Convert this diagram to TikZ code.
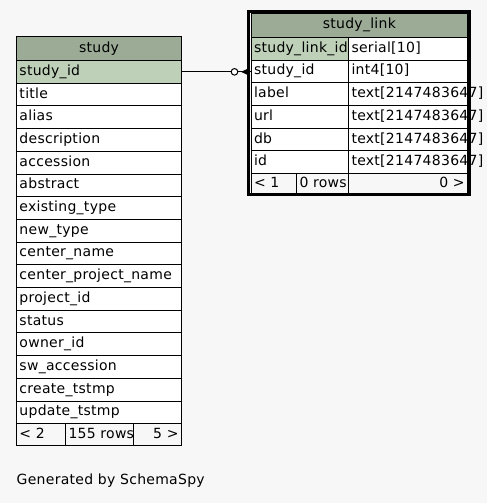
\documentclass[tikz,border=0pt]{standalone}
\usepackage{fontspec}
\setmainfont{DejaVu Sans}[LetterSpace=2]
\usetikzlibrary{calc}
\definecolor{bg}{HTML}{F7F7F7}
\definecolor{hdr}{HTML}{9BAB96}
\definecolor{pk}{HTML}{BED1B8}
\begin{document}
\begin{tikzpicture}[x=1pt,y=-1pt,
  font=\fontsize{14}{16}\selectfont,
  cell/.style={draw=black, line width=1pt, anchor=north west, inner xsep=3pt, inner ysep=0pt,
    text height=10.5pt, text depth=3.5pt, align=left, fill=white, minimum height=22.7pt},
  hcell/.style={cell, fill=hdr, align=center},
  fcell/.style={cell, fill=bg},
  link/.style={draw=black, line width=1pt},
  frame/.style={draw=black, line width=3.5pt}]
\useasboundingbox[fill=bg] (0,0) rectangle (487,503);
% ---- study table ----
\node[hcell, minimum height=23.5pt, text width=159pt, minimum width=165pt] (s) at (16,36.5) {study};
\node[cell, fill=pk, text width=159pt, minimum width=165pt] (s0) at (16,60) {study\_id};
\foreach \t [count=\i from 1] in {title,alias,description,accession,abstract,existing\_type,new\_type,center\_name,center\_project\_name,project\_id,status,owner\_id,sw\_accession,create\_tstmp,update\_tstmp}
  \node[cell, text width=159pt, minimum width=165pt] (s\i) at (16,{60+\i*22.7}) {\t};
\node[fcell, minimum height=22pt, text width=43pt, minimum width=49pt] (sf1) at (16,423.2) {< 2};
\node[fcell, minimum height=22pt, text width=62pt, minimum width=68pt] (sf2) at (65,423.2) {\mbox{155 rows}};
\node[fcell, minimum height=22pt, text width=42pt, minimum width=48pt, align=right] (sf3) at (133,423.2) {5 >};
% ---- study_link table ----
\node[hcell, minimum height=23.4pt, text width=210.7pt, minimum width=216.7pt] (l) at (250.5,13.3) {study\_link};
\foreach \n/\t [count=\i from 0] in {study\_link\_id/serial[10],study\_id/int4[10],label/text[2147483647],url/text[2147483647],db/text[2147483647],id/text[2147483647]}
{
  \ifnum\i=0
    \node[cell, fill=pk, text width=91.5pt, minimum width=97.5pt] (ln\i) at (250.5,{36.9+\i*22.7}) {\n};
  \else
    \node[cell, text width=91.5pt, minimum width=97.5pt] (ln\i) at (250.5,{36.9+\i*22.7}) {\n};
  \fi
  \node[cell, text width=113.2pt, minimum width=119.2pt] (lt\i) at (348,{36.9+\i*22.7}) {\mbox{\t}};
}
\node[fcell, minimum height=21.5pt, text width=39.5pt, minimum width=45.5pt] (lf1) at (250.5,173.1) {< 1};
\node[fcell, minimum height=21.5pt, text width=46pt, minimum width=52pt] (lf2) at (296,173.1) {\mbox{0 rows}};
\node[fcell, minimum height=21.5pt, text width=113.2pt, minimum width=119.2pt, align=right] (lf3) at (348,173.1) {0 >};
% ---- connector ----
\coordinate (ce) at (s0.east -| ln1.west);
\draw[link] (s0.east) -- (ce);
\draw[link, fill=white] ($(ce)+(-16,0)$) circle (3.3pt);
\fill ($(ce)+(-9.5,0)$) -- ($(ce)+(-2,-3.5)$) -- ($(ce)+(-2,3.5)$) -- cycle;
% ---- frame ----
\draw[frame] (248.7,11.3) rectangle (469,194.4);
% ---- caption ----
\node[anchor=base west, inner sep=0pt] (cap) at (16.5,484) {Generated by SchemaSpy};
\end{tikzpicture}
\end{document}
